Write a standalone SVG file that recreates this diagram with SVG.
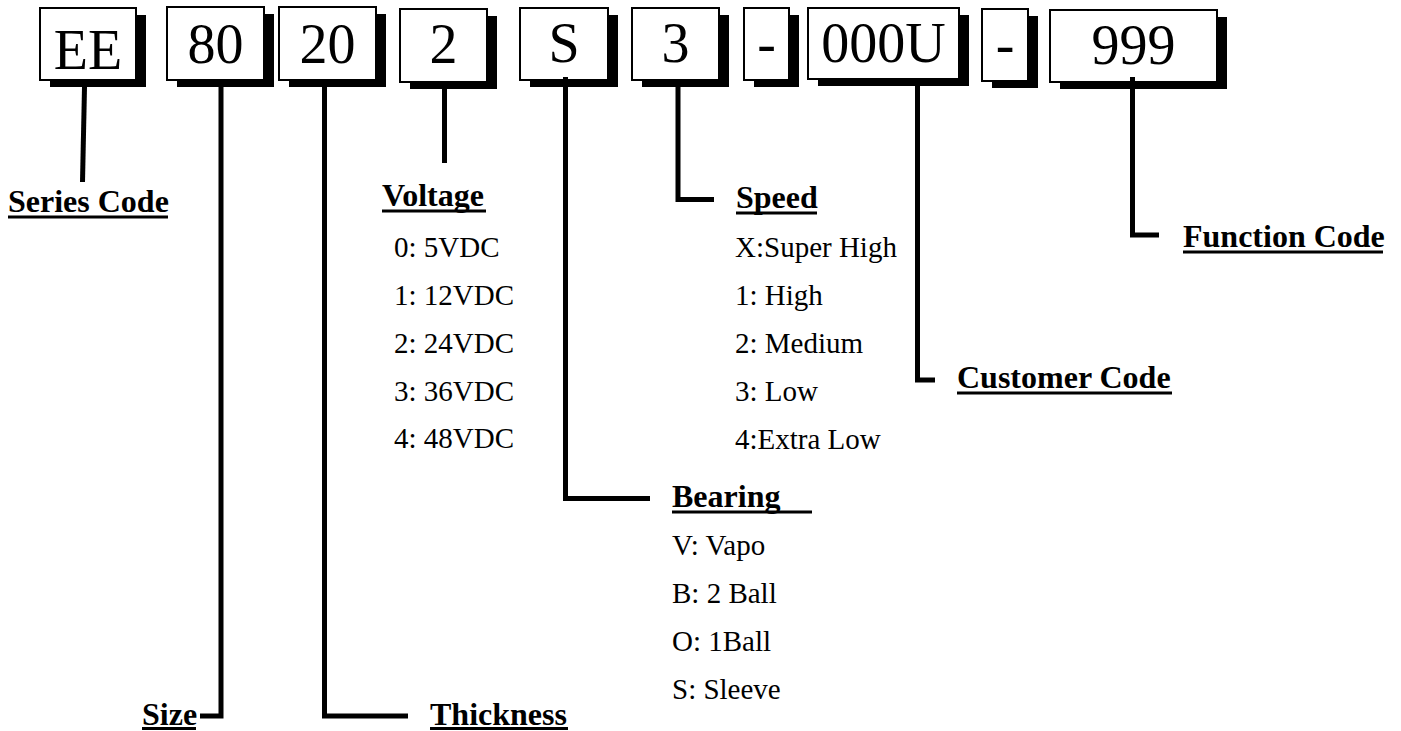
<svg xmlns="http://www.w3.org/2000/svg" width="1401" height="731" viewBox="0 0 1401 731">
<style>
.box{fill:#fff;stroke:#000;stroke-width:2}
.sh{fill:#000}
.code{font-family:"Liberation Serif","Times New Roman",serif;font-size:56px;fill:#000;text-anchor:middle}
.hd{font-family:"Liberation Serif","Times New Roman",serif;font-size:32px;font-weight:bold;fill:#000}
.it{font-family:"Liberation Serif","Times New Roman",serif;font-size:29px;fill:#000}
.ul{fill:#000}
.con{fill:none;stroke:#000;stroke-width:5;stroke-linejoin:miter;stroke-linecap:butt}
</style>
<rect width="1401" height="731" fill="#fff"/>
<g id="node-EE"><rect class="sh" x="50" y="15" width="96" height="72"/><rect class="box" x="40" y="8" width="96" height="72"/><text class="code" x="88" y="69">EE</text></g>
<g id="node-80"><rect class="sh" x="177" y="14" width="97" height="73"/><rect class="box" x="167" y="7" width="97" height="73"/><text class="code" x="215.5" y="63">80</text></g>
<g id="node-20"><rect class="sh" x="289" y="14" width="97" height="73"/><rect class="box" x="279" y="7" width="97" height="73"/><text class="code" x="327.5" y="63">20</text></g>
<g id="node-2"><rect class="sh" x="410" y="16" width="87" height="73"/><rect class="box" x="400" y="9" width="87" height="73"/><text class="code" x="443.5" y="63">2</text></g>
<g id="node-S"><rect class="sh" x="530" y="15" width="88" height="72"/><rect class="box" x="520" y="8" width="88" height="72"/><text class="code" x="564" y="62">S</text></g>
<g id="node-3"><rect class="sh" x="642" y="15" width="87" height="72"/><rect class="box" x="632" y="8" width="87" height="72"/><text class="code" x="675.5" y="62">3</text></g>
<g id="node-dash1"><rect class="sh" x="754" y="15" width="45" height="72"/><rect class="box" x="744" y="8" width="45" height="72"/><text class="code" x="766.5" y="62">-</text></g>
<g id="node-000U"><rect class="sh" x="818" y="15" width="151" height="71"/><rect class="box" x="808" y="8" width="151" height="71"/><text class="code" x="883.5" y="62">000U</text></g>
<g id="node-dash2"><rect class="sh" x="992" y="16" width="46" height="72"/><rect class="box" x="982" y="9" width="46" height="72"/><text class="code" x="1005" y="63">-</text></g>
<g id="node-999"><rect class="sh" x="1060" y="17" width="167" height="72"/><rect class="box" x="1050" y="10" width="167" height="72"/><text class="code" x="1133.5" y="64">999</text></g>
<g id="connectors">
<path class="con" d="M84.5,87 L82.5,182"/>
<path class="con" d="M221,87 V716 H200"/>
<path class="con" d="M324.5,87 V716 H408"/>
<path class="con" d="M444.5,89 V163"/>
<path class="con" d="M565.5,77 V498.5 H650"/>
<path class="con" d="M678,87 V199.5 H714"/>
<path class="con" d="M917.5,86 V380 H935"/>
<path class="con" d="M1132.5,77 V235 H1159"/>
</g>
<g id="label-series"><text class="hd" x="8" y="212">Series Code</text><rect class="ul" x="8" y="215.5" width="160" height="3"/></g>
<g id="label-size"><text class="hd" x="142" y="725">Size</text><rect class="ul" x="142" y="727" width="54" height="3"/></g>
<g id="label-thickness"><text class="hd" x="430" y="725">Thickness</text><rect class="ul" x="430" y="727" width="138" height="3"/></g>
<g id="label-voltage"><text class="hd" x="382" y="206">Voltage</text><rect class="ul" x="382" y="209.5" width="104" height="3"/>
<text class="it" x="394" y="257">0: 5VDC</text>
<text class="it" x="394" y="305">1: 12VDC</text>
<text class="it" x="394" y="353">2: 24VDC</text>
<text class="it" x="394" y="401">3: 36VDC</text>
<text class="it" x="394" y="448">4: 48VDC</text></g>
<g id="label-speed"><text class="hd" x="736" y="208">Speed</text><rect class="ul" x="736" y="211.5" width="81" height="3"/>
<text class="it" x="735" y="257">X:Super High</text>
<text class="it" x="735" y="305">1: High</text>
<text class="it" x="735" y="353">2: Medium</text>
<text class="it" x="735" y="401">3: Low</text>
<text class="it" x="735" y="449">4:Extra Low</text></g>
<g id="label-bearing"><text class="hd" x="672" y="507">Bearing</text><rect class="ul" x="672" y="510.5" width="140" height="3"/>
<text class="it" x="672" y="555">V: Vapo</text>
<text class="it" x="672" y="603">B: 2 Ball</text>
<text class="it" x="672" y="651">O: 1Ball</text>
<text class="it" x="672" y="699">S: Sleeve</text></g>
<g id="label-customer"><text class="hd" x="957" y="388">Customer Code</text><rect class="ul" x="957" y="391.5" width="215" height="3"/></g>
<g id="label-function"><text class="hd" x="1183" y="247">Function Code</text><rect class="ul" x="1183" y="250.5" width="200" height="3"/></g>
</svg>
